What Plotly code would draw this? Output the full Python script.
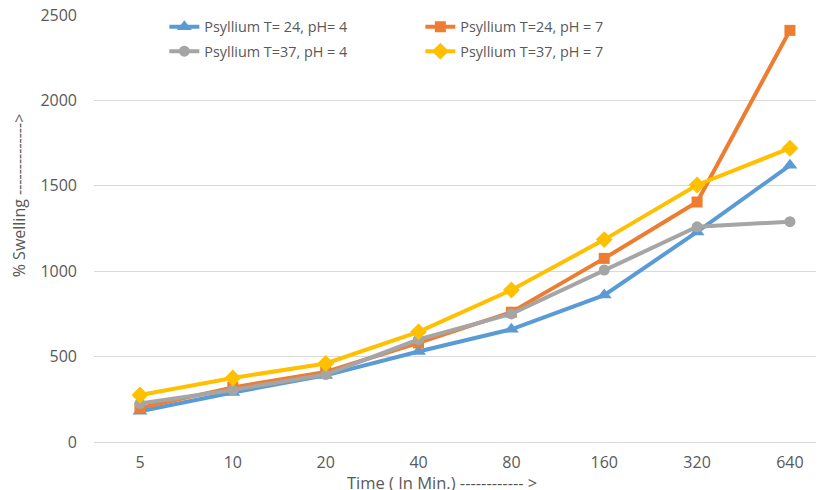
import plotly.graph_objects as go

times = ["5", "10", "20", "40", "80", "160", "320", "640"]
t24_ph4 = [180, 290, 390, 530, 660, 860, 1230, 1620]
t24_ph7 = [200, 320, 410, 580, 760, 1075, 1405, 2410]
t37_ph4 = [225, 305, 395, 600, 750, 1007, 1260, 1290]
t37_ph7 = [275, 375, 460, 645, 890, 1185, 1505, 1720]

series = [
    ("Psyllium T= 24, pH= 4", t24_ph4, "#5B9BD5", "triangle-up", 13, "legend"),
    ("Psyllium T=24, pH = 7", t24_ph7, "#ED7D31", "square", 11, "legend"),
    ("Psyllium T=37, pH = 4", t37_ph4, "#A5A5A5", "circle", 11, "legend2"),
    ("Psyllium T=37, pH = 7", t37_ph7, "#FFC000", "diamond", 13, "legend2"),
]

fig = go.Figure()
for name, vals, col, sym, sz, leg in series:
    fig.add_trace(go.Scatter(
        x=times, y=vals, name=name, mode="lines+markers",
        line=dict(color=col, width=4),
        marker=dict(symbol=sym, size=sz, color=col),
        legend=leg,
    ))

FAM = "Open Sans, Liberation Sans, sans-serif"
GREY = "#595959"
legstyle = dict(orientation="h", xanchor="left", yanchor="middle",
                bgcolor="rgba(0,0,0,0)", entrywidth=211, entrywidthmode="pixels",
                font=dict(family=FAM, size=14.4, color=GREY),
                itemwidth=30, tracegroupgap=0)

fig.update_layout(
    width=824, height=490,
    margin=dict(l=86, r=9, t=7, b=56, autoexpand=False),
    paper_bgcolor="white", plot_bgcolor="white",
    font=dict(family=FAM, size=16, color=GREY),
    legend=dict(x=0.0965, y=0.972, **legstyle),
    legend2=dict(x=0.0965, y=0.915, **legstyle),
    xaxis=dict(type="category", range=[-0.495, 7.356], showgrid=False,
               showline=False, ticks="", ticklabelstandoff=9, automargin=False,
               tickfont=dict(family=FAM, size=16, color=GREY)),
    yaxis=dict(range=[0, 2500], dtick=500, showgrid=True, gridcolor="#D9D9D9",
               gridwidth=1, zeroline=True, zerolinecolor="#D9D9D9", zerolinewidth=1,
               showline=False, ticks="", ticklabelstandoff=16, automargin=False,
               ticklabeloverflow="allow",
               tickfont=dict(family=FAM, size=16, color=GREY)),
    annotations=[
        dict(text="Time ( In Min.) ------------ >", xref="paper", yref="paper",
             x=0.477, y=-0.094, xanchor="center", yanchor="middle",
             showarrow=False, font=dict(family=FAM, size=16.5, color=GREY)),
        dict(text="% Swelling -------------->", xref="paper", yref="paper",
             x=-0.1025, y=0.5785, xanchor="center", yanchor="middle", textangle=-90,
             showarrow=False, font=dict(family=FAM, size=16, color=GREY)),
    ],
)

fig.write_html("out.html")
